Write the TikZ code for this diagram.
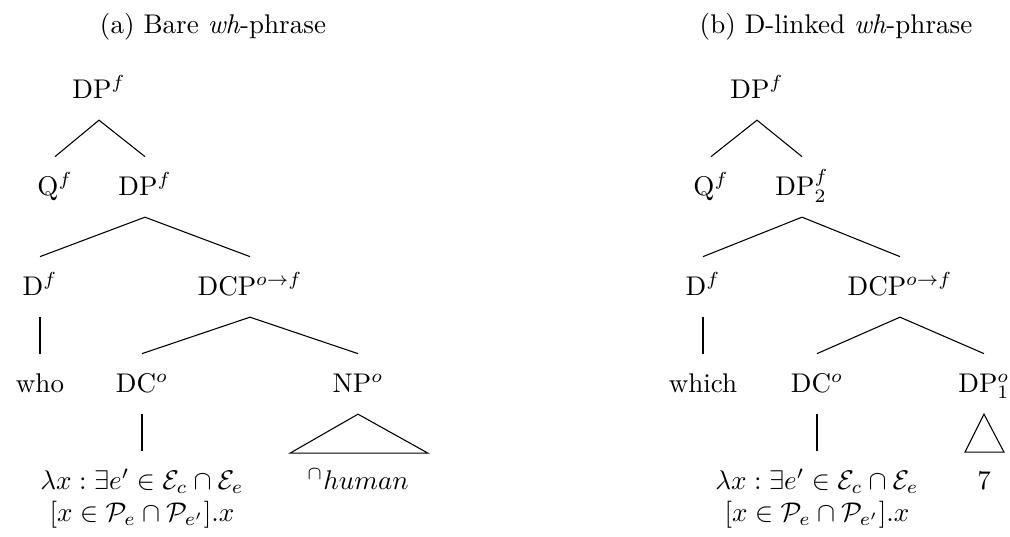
\documentclass[tikz,border=0pt]{standalone}
\usepackage{amsmath}
\usepackage{amssymb}
\usetikzlibrary{positioning, calc}
\tikzset{
  cat/.style={anchor=base, text height=7.5pt, text depth=1.5pt, inner xsep=1pt, inner ysep=6.5pt},
  sem/.style={anchor=north, align=center, inner xsep=0pt, inner ysep=6.5pt},
  branch/.style={draw=black, line width=0.4pt}
}
\begin{document}
\begin{tikzpicture}[x=0.37pt, y=-0.37pt]
  \useasboundingbox (0,0) rectangle (1010,536);

  % (a) Bare wh-phrase
  \node[anchor=base] (titlea) at (213,33) {(a) Bare \emph{wh}-phrase};
  \node[cat] (aroot) at (99,98) {DP$^f$};
  \node[cat] (aq) at (55,195) {Q$^f$};
  \node[cat] (adp) at (145,195) {DP$^f$};
  \node[cat] (ad) at (40,295) {D$^f$};
  \node[cat] (adcp) at (250,295) {DCP$^{o\rightarrow f}$};
  \node[cat] (awho) at (40,392) {who};
  \node[cat] (adc) at (142,392) {DC$^o$};
  \node[cat] (anp) at (358,392) {NP$^o$};
  \node[sem] (asem) at (142,451) {$\lambda x : \exists e' \in \mathcal{E}_c \cap \mathcal{E}_e$\\ $[x \in \mathcal{P}_e \cap \mathcal{P}_{e'}].x$};
  \node[anchor=base] (ahuman) at (358,489) {$^\cap human$};

  \draw[branch] (aq.north) -- (aroot.south) -- (adp.north);
  \draw[branch] (ad.north) -- (adp.south) -- (adcp.north);
  \draw[branch] (ad.south) -- (awho.north);
  \draw[branch] (adc.north) -- (adcp.south) -- (anp.north);
  \draw[branch] (adc.south) -- (asem.north);
  \draw[branch] (anp.south) -- ++(-68,39) -- ++(138,0) -- cycle;

  % (b) D-linked wh-phrase
  \node[anchor=base] (titleb) at (836,33) {(b) D-linked \emph{wh}-phrase};
  \node[cat] (broot) at (757,98) {DP$^f$};
  \node[cat] (bq) at (711,195) {Q$^f$};
  \node[cat] (bdp) at (802,195) {DP$^f_2$};
  \node[cat] (bd) at (703,295) {D$^f$};
  \node[cat] (bdcp) at (900,295) {DCP$^{o\rightarrow f}$};
  \node[cat] (bwhich) at (703,392) {which};
  \node[cat] (bdc) at (817,392) {DC$^o$};
  \node[cat] (bdpone) at (984,392) {DP$^o_1$};
  \node[sem] (bsem) at (817,451) {$\lambda x : \exists e' \in \mathcal{E}_c \cap \mathcal{E}_e$\\ $[x \in \mathcal{P}_e \cap \mathcal{P}_{e'}].x$};
  \node[anchor=base] (bseven) at (984,489) {$7$};

  \draw[branch] (bq.north) -- (broot.south) -- (bdp.north);
  \draw[branch] (bd.north) -- (bdp.south) -- (bdcp.north);
  \draw[branch] (bd.south) -- (bwhich.north);
  \draw[branch] (bdc.north) -- (bdcp.south) -- (bdpone.north);
  \draw[branch] (bdc.south) -- (bsem.north);
  \draw[branch] (bdpone.south) -- ++(-19,38) -- ++(39,0) -- cycle;
\end{tikzpicture}
\end{document}
